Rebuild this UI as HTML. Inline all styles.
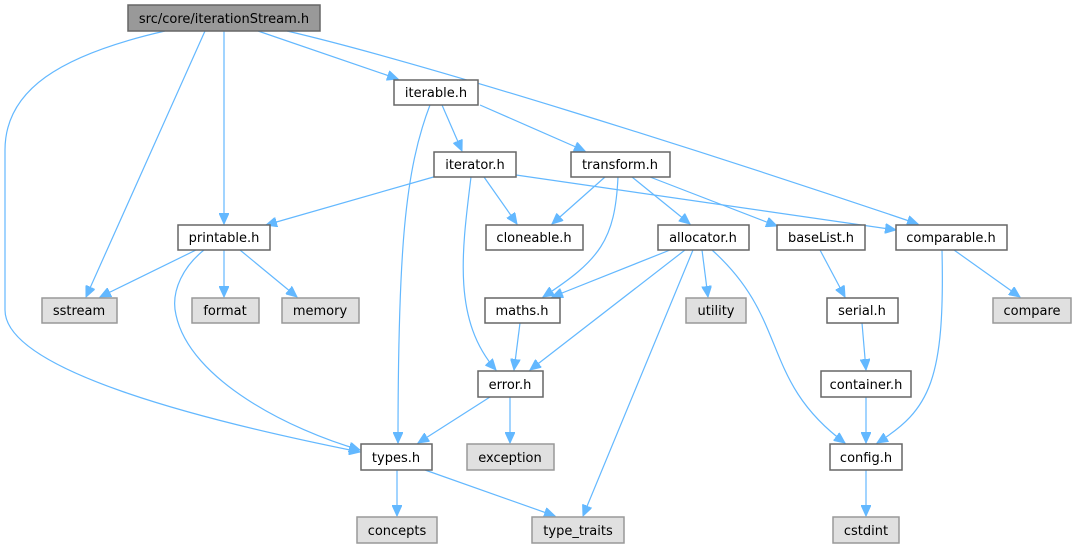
<!DOCTYPE html>
<html><head><meta charset="utf-8"><style>
html,body{margin:0;padding:0;background:#fff;}
svg{display:block;}
text{font-family:"DejaVu Sans","Liberation Sans",sans-serif;font-size:13px;fill:#000;text-anchor:middle;}
.n{fill:#fff;stroke:#666;stroke-width:1.5;}
.s{fill:#e0e0e0;stroke:#999;stroke-width:1.5;}
.r{fill:#999;stroke:#666;stroke-width:1.5;}
path{fill:none;stroke:#63b8ff;stroke-width:1.2;marker-end:url(#a);}
</style></head><body>
<svg width="1077" height="549" viewBox="0 0 1077 549" xmlns="http://www.w3.org/2000/svg">
<defs><marker id="a" markerUnits="userSpaceOnUse" markerWidth="12" markerHeight="10" refX="11" refY="5" orient="auto"><path d="M0,0 L11,5 L0,10 Z" style="fill:#63b8ff;stroke:#63b8ff;stroke-width:1;marker-end:none"/></marker></defs>
<path d="M165,31 C60,55 5,90 5,150 L5,310 C5,370 200,420 360,452"/>
<path d="M205,31 L86,297"/>
<path d="M224,31 L224,224"/>
<path d="M258,31 L398,79"/>
<path d="M287,31 C420,62 700,150 918,224"/>
<path d="M442,105 L462,151"/>
<path d="M480,105 L585,151"/>
<path d="M430,105 C405,170 398,250 398,443"/>
<path d="M437,176 L266,225"/>
<path d="M484,177 L517,224"/>
<path d="M516,175 L896,230"/>
<path d="M471,177 C462,250 452,320 496,370"/>
<path d="M605,177 L552,224"/>
<path d="M618,177 C615,240 600,260 543,297"/>
<path d="M632,177 L690,224"/>
<path d="M650,177 L777,226"/>
<path d="M670,250 L552,297"/>
<path d="M685,250 L530,370"/>
<path d="M693,250 L583,516"/>
<path d="M702,250 L708,297"/>
<path d="M712,250 C790,320 760,380 845,443"/>
<path d="M820,250 L845,297"/>
<path d="M862,323 L866,370"/>
<path d="M866,397 L866,443"/>
<path d="M942,250 C945,380 930,410 877,443"/>
<path d="M954,250 L1020,297"/>
<path d="M196,250 L100,297"/>
<path d="M224,250 L224,297"/>
<path d="M240,250 L297,297"/>
<path d="M204,250 C185,265 170,290 176,315 C190,380 290,430 360,450"/>
<path d="M520,323 L514,370"/>
<path d="M490,397 L418,443"/>
<path d="M510,397 L510,443"/>
<path d="M397,470 L397,516"/>
<path d="M425,470 L555,516"/>
<path d="M866,470 L866,516"/>
<rect class="r" x="128" y="5" width="192" height="26"/><text x="224" y="23">src/core/iterationStream.h</text>
<rect class="n" x="394" y="80" width="84" height="25"/><text x="436" y="97">iterable.h</text>
<rect class="n" x="434" y="152" width="82" height="25"/><text x="475" y="169">iterator.h</text>
<rect class="n" x="571" y="152" width="99" height="25"/><text x="620" y="169">transform.h</text>
<rect class="n" x="178" y="225" width="92" height="25"/><text x="224" y="242">printable.h</text>
<rect class="n" x="486" y="225" width="97" height="25"/><text x="534" y="242">cloneable.h</text>
<rect class="n" x="658" y="225" width="91" height="25"/><text x="703" y="242">allocator.h</text>
<rect class="n" x="777" y="225" width="88" height="25"/><text x="821" y="242">baseList.h</text>
<rect class="n" x="896" y="225" width="111" height="25"/><text x="951" y="242">comparable.h</text>
<rect class="s" x="42" y="298" width="75" height="25"/><text x="79" y="315">sstream</text>
<rect class="s" x="192" y="298" width="67" height="25"/><text x="225" y="315">format</text>
<rect class="s" x="282" y="298" width="77" height="25"/><text x="320" y="315">memory</text>
<rect class="n" x="485" y="298" width="75" height="25"/><text x="522" y="315">maths.h</text>
<rect class="s" x="686" y="298" width="60" height="25"/><text x="716" y="315">utility</text>
<rect class="n" x="827" y="298" width="71" height="25"/><text x="862" y="315">serial.h</text>
<rect class="s" x="993" y="298" width="78" height="25"/><text x="1032" y="315">compare</text>
<rect class="n" x="478" y="371" width="65" height="26"/><text x="510" y="389">error.h</text>
<rect class="n" x="821" y="371" width="90" height="26"/><text x="866" y="389">container.h</text>
<rect class="n" x="361" y="444" width="71" height="26"/><text x="396" y="462">types.h</text>
<rect class="s" x="467" y="444" width="87" height="26"/><text x="510" y="462">exception</text>
<rect class="n" x="830" y="444" width="72" height="26"/><text x="866" y="462">config.h</text>
<rect class="s" x="357" y="517" width="80" height="26"/><text x="397" y="535">concepts</text>
<rect class="s" x="532" y="517" width="92" height="26"/><text x="578" y="535">type_traits</text>
<rect class="s" x="833" y="517" width="66" height="26"/><text x="866" y="535">cstdint</text>
</svg>
</body></html>
